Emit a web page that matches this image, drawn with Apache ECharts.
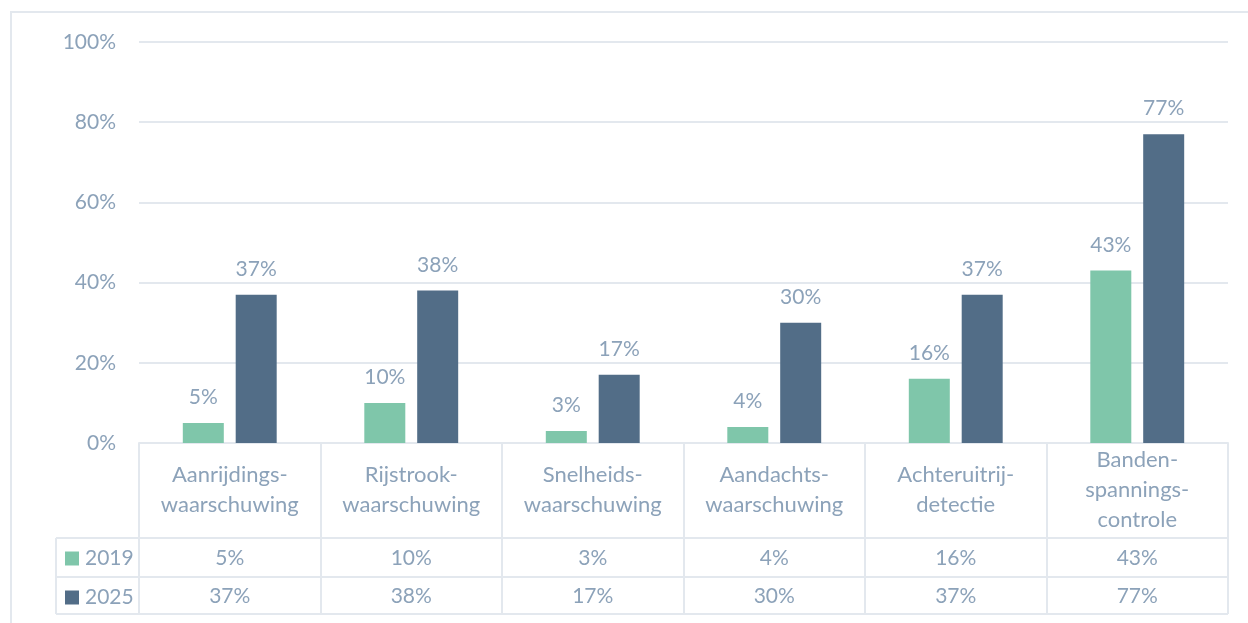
<!DOCTYPE html>
<html>
<head>
<meta charset="utf-8">
<script src="https://cdn.jsdelivr.net/npm/echarts@6/dist/echarts.min.js"></script>
<style>
html,body{margin:0;padding:0;background:#fff;}
#chart{width:1248px;height:623px;}
</style>
</head>
<body>
<div id="chart"></div>
<script>
const categories = ['Aanrijdings-\nwaarschuwing', 'Rijstrook-\nwaarschuwing', 'Snelheids-\nwaarschuwing', 'Aandachts-\nwaarschuwing', 'Achteruitrij-\ndetectie', 'Banden-\nspannings-\ncontrole'];
const seriesNames = ['2019', '2025'];
const values2019 = [5, 10, 3, 4, 16, 43];
const values2025 = [37, 38, 17, 30, 37, 77];
const yTicks = { min: 0, max: 100, interval: 20 };

const TEXT = '#8ca2b9';
const LINE = '#e3e8ee';
const FONT = 'Lato';
const C2019 = '#7fc6aa';
const C2025 = '#526d87';
const NUM_SIZE = 21;
const CAT_SIZE = 22;

const gridLeft = 139, gridRight = 20, gridTop = 42, gridBottom = 180;
const rowOffsets = [95, 134, 171];   // table row boundaries below the axis
const legendColLeft = 56;

const chart = echarts.init(document.getElementById('chart'));

function valueAxis(vals, margin) {
  return {
    type: 'category', gridIndex: 0, position: 'bottom', data: categories,
    axisLine: { show: false }, axisTick: { show: false },
    axisLabel: {
      interval: 0, margin: margin, verticalAlign: 'middle',
      color: TEXT, fontFamily: FONT, fontSize: NUM_SIZE,
      formatter: (v, i) => vals[i] + '%'
    }
  };
}

const option = {
  backgroundColor: '#fff',
  textStyle: { fontFamily: FONT },
  animation: false,
  grid: { left: gridLeft, right: gridRight, top: gridTop, bottom: gridBottom, containLabel: false },
  legend: {
    orient: 'vertical', left: 65, top: 548, padding: 0, itemGap: 18,
    itemWidth: 14, itemHeight: 14, icon: 'rect',
    textStyle: { color: TEXT, fontFamily: FONT, fontSize: NUM_SIZE, lineHeight: 20, padding: [0, 0, 0, 1] },
    data: seriesNames
  },
  xAxis: [
    {
      type: 'category', data: categories, position: 'bottom',
      axisLine: { show: true, lineStyle: { color: LINE, width: 2 } },
      axisTick: { show: true, interval: 0, length: rowOffsets[2], lineStyle: { color: LINE, width: 2 } },
      axisLabel: {
        interval: 0, margin: 47, verticalAlign: 'middle', lineHeight: 30,
        color: TEXT, fontFamily: FONT, fontSize: CAT_SIZE
      }
    },
    valueAxis(values2019, 115),
    valueAxis(values2025, 153)
  ],
  yAxis: {
    type: 'value', min: yTicks.min, max: yTicks.max, interval: yTicks.interval,
    axisLine: { show: false }, axisTick: { show: false },
    axisLabel: { formatter: '{value}%', color: TEXT, fontFamily: FONT, fontSize: NUM_SIZE, margin: 23 },
    splitLine: { lineStyle: { color: LINE, width: 2 } }
  },
  series: [
    {
      name: seriesNames[0], type: 'bar', data: values2019, barWidth: 41, barGap: '29%',
      itemStyle: { color: C2019 },
      label: { show: true, position: 'top', distance: 15, formatter: '{c}%', color: TEXT, fontFamily: FONT, fontSize: NUM_SIZE }
    },
    {
      name: seriesNames[1], type: 'bar', data: values2025, barWidth: 41,
      itemStyle: { color: C2025 },
      label: { show: true, position: 'top', distance: 15, formatter: '{c}%', color: TEXT, fontFamily: FONT, fontSize: NUM_SIZE }
    }
  ]
};
chart.setOption(option);

// table grid lines derived from the chart's own axis geometry
const y0 = chart.convertToPixel({ yAxisIndex: 0 }, 0);
const width = chart.getWidth();
const rightX = width - gridRight;
const lines = [];
rowOffsets.forEach(off => {
  lines.push({ type: 'line', silent: true, z: 5,
    shape: { x1: legendColLeft, y1: y0 + off, x2: rightX, y2: y0 + off },
    style: { stroke: LINE, lineWidth: 2 } });
});
lines.push({ type: 'line', silent: true, z: 5,
  shape: { x1: legendColLeft, y1: y0 + rowOffsets[0], x2: legendColLeft, y2: y0 + rowOffsets[2] },
  style: { stroke: LINE, lineWidth: 2 } });
lines.push({ type: 'rect', silent: true, z: 0,
  shape: { x: 11, y: 12, width: width + 20, height: chart.getHeight() + 20 },
  style: { fill: 'none', stroke: LINE, lineWidth: 2 } });
chart.setOption({ graphic: lines });
</script>
</body>
</html>
